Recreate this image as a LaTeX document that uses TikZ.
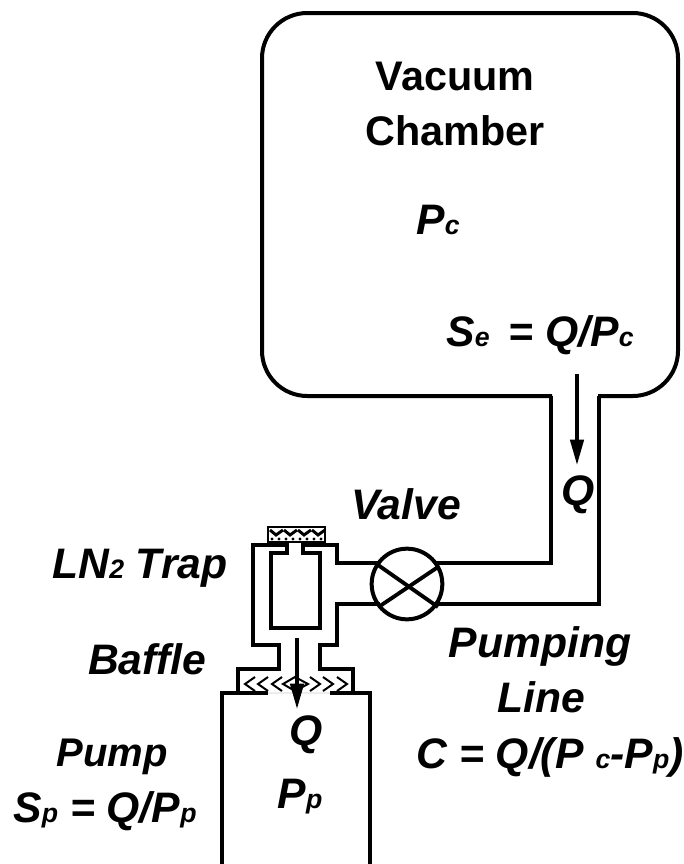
\documentclass[tikz,border=0pt]{standalone}
\usepackage{fontspec}
\setmainfont{Liberation Sans}
\usetikzlibrary{arrows.meta}
\tikzset{
  wall/.style={line width=2.9pt,line join=miter},
  thin wall/.style={line width=2.5pt,line join=miter},
  flow/.style={line width=2.6pt,-{Triangle[length=19pt,width=10pt]}},
  lbl/.style={font=\fontsize{32}{36}\selectfont\bfseries\itshape,inner sep=0pt,anchor=base},
  head/.style={font=\fontsize{31}{36}\selectfont\bfseries,inner sep=0pt,anchor=base},
}
\newcommand{\sub}[1]{{\fontsize{20}{22}\selectfont #1}}
\begin{document}
\begin{tikzpicture}[x=0.75pt,y=-0.75pt]
  \useasboundingbox (0,0) rectangle (683,864);
  % chamber and pumping line
  \draw[thin wall,line width=3pt,rounded corners=34pt] (552,396) -- (262,396) -- (262,13) -- (678,13) -- (678,396) -- (598,396);
  \draw[thin wall] (551,396) -- (551,563) -- (434,563);
  \draw[thin wall] (599,396) -- (599,604) -- (434,604);
  % valve
  \node[draw,circle,line width=3pt,minimum size=53pt,inner sep=0pt,outer sep=0pt] (valve) at (407,584) {};
  \draw[wall] (378,565) -- (438,607);
  \draw[wall] (380,606) -- (438,567);
  % trap
  \draw[wall] (380,563) -- (337,563) -- (337,545) -- (303,545) -- (303,553) -- (320,553) -- (320,628)
    -- (271,628) -- (271,553) -- (287,553) -- (287,545) -- (253,545) -- (253,645) -- (279,645)
    -- (279,669) -- (238,669) -- (238,693) -- (222,693) -- (222,864);
  \draw[wall] (380,604) -- (337,604) -- (337,645) -- (320,645) -- (320,669) -- (353,669) -- (353,693)
    -- (370,693) -- (370,864);
  \draw[wall] (222,693) -- (268,693);
  \draw[wall] (330,693) -- (370,693);
  \draw[gray!15,line width=1pt] (268,693) -- (330,693);
  % LN2 cap
  \draw[line width=1.5pt,fill=white] (268,527) rectangle (325,542);
  \foreach \px in {270,284,298,312}
    \draw[line width=2.2pt] (\px,530) -- ++(6,5) -- ++(7,-5);
  \foreach \px in {272,279,286,293,300,307,314,321}
    \fill (\px,539) circle (1.2pt);
  % baffle
  \foreach \px in {255,268,282}
    \draw[line width=1.5pt] (\px,677) -- ++(-10,7) -- ++(10,7);
  \foreach \px in {310,323,337}
    \draw[line width=1.5pt] (\px,677) -- ++(10,7) -- ++(-10,7);
  \draw[line width=1.5pt] (283,684) -- (295,677) -- (308,684) -- (295,691) -- cycle;
  % flow arrows
  \coordinate (flowa) at (577,374);
  \coordinate (flowb) at (577,465);
  \coordinate (flowc) at (297,638);
  \coordinate (flowd) at (297,709);
  \draw[flow] (flowa) -- (flowb);
  \draw[flow] (flowc) -- (flowd);
  % labels
  \node[head] (vacuum) at (455,90) {Vacuum};
  \node[head] (chamber) at (455,145) {Chamber};
  \node[lbl] (pc) at (438,234) {P\sub{c}};
  \node[lbl] (se) at (540,346) {S\sub{e} \,= Q/P\sub{c}};
  \node[lbl] (qa) at (578,505) {Q};
  \node[lbl] (valvetxt) at (406,519) {Valve};
  \node[lbl] (trap) at (140,578) {LN\sub{2} Trap};
  \node[lbl] (baffle) at (147,674) {Baffle};
  \node[lbl] (pumping) at (540,657) {Pumping};
  \node[lbl] (linetxt) at (541,712) {Line};
  \node[lbl] (cond) at (550,768) {C = Q/(P \sub{c}-P\sub{p})};
  \node[lbl,font=\fontsize{30}{36}\selectfont\bfseries\itshape] (pump) at (112,766) {Pump};
  \node[lbl] (sp) at (105,822) {S\sub{p} = Q/P\sub{p}};
  \node[lbl] (qb) at (306,745) {Q};
  \node[lbl] (pp) at (300,808) {P\sub{p}};
\end{tikzpicture}
\end{document}
